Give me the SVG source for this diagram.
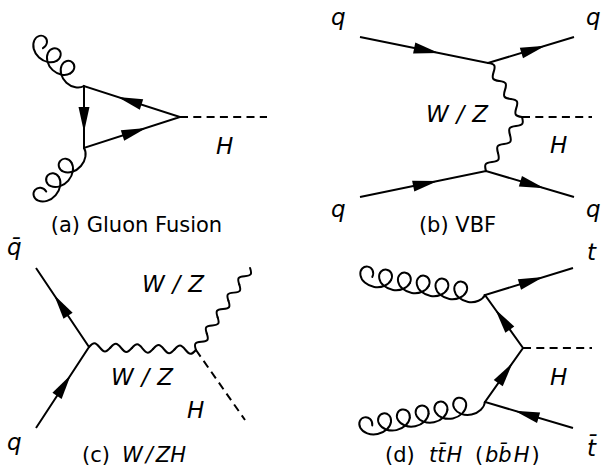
<svg xmlns="http://www.w3.org/2000/svg" xmlns:xlink="http://www.w3.org/1999/xlink" width="601" height="471" viewBox="0 0 601 471">
<style>
.ln{fill:none;stroke:#000;stroke-width:2;stroke-linejoin:miter}
.ds{fill:none;stroke:#000;stroke-width:2;stroke-dasharray:8 5.3}
.ar{fill:#000;stroke:none}
.bo{fill:none;stroke:#000;stroke-width:2;stroke-linecap:round;stroke-linejoin:round}
text{font-family:"DejaVu Sans","Liberation Sans",sans-serif;fill:#000}
.m{font-size:23px;font-style:italic}
.cap{font-size:21px}
.it{font-style:italic}
</style>
<defs>
<path id="coil" d="M0,0 C0.812,-2.487 0.438,-4.959 -0.787,-6.718 C-2.012,-8.477 -4.063,-9.5 -6.131,-9.5 C-8.199,-9.5 -10.249,-8.477 -11.474,-6.718 C-12.699,-4.959 -13.073,-2.487 -12.261,0 C-11.449,2.487 -9.452,4.959 -6.604,6.718 C-3.756,8.477 -0.083,9.5 3.608,9.5 C7.299,9.5 10.973,8.477 13.821,6.718 C16.669,4.959 18.666,2.487 19.478,0"/>
<path id="wave" d="M0,0 C1.667,-2.094 3.333,-4 5,-4 S8.333,-2.094 10,0 S13.333,4 15,4 S18.333,2.094 20,0"/>
<path id="arr" d="M15,0 L-10,-5.5 L-10,5.5 Z"/>
</defs>
<rect width="601" height="471" fill="#fff"/>

<g id="connectors">
  <!-- (a) gluon fusion -->
  <path class="ln" d="M84,86 L84,148 L180,117 Z"/>
  <line class="ds" x1="180" y1="117" x2="267" y2="117"/>
  <g class="bo" transform="translate(34,40) rotate(42.61) scale(0.955,1) translate(12.7,0)">
    <use href="#coil" xlink:href="#coil"/><use href="#coil" xlink:href="#coil" x="19.478"/><use href="#coil" xlink:href="#coil" x="38.956"/>
  </g>
  <g class="bo" transform="translate(38,201) rotate(-49.05) scale(0.987,1) translate(12.7,0)">
    <use href="#coil" xlink:href="#coil"/><use href="#coil" xlink:href="#coil" x="19.478"/><use href="#coil" xlink:href="#coil" x="38.956"/>
  </g>
  <use class="ar" href="#arr" xlink:href="#arr" transform="translate(84,117) rotate(90)"/>
  <use class="ar" href="#arr" xlink:href="#arr" transform="translate(132,101.5) rotate(-162.1)"/>
  <use class="ar" href="#arr" xlink:href="#arr" transform="translate(132,132.5) rotate(-17.9)"/>

  <!-- (b) VBF -->
  <path class="ln" d="M360,37 L488,63 L574,37"/>
  <path class="ln" d="M360,197 L486,171 L574,197"/>
  <g class="bo" transform="translate(488,63) rotate(57.8) scale(1.063,1)">
    <use href="#wave" xlink:href="#wave"/><use href="#wave" xlink:href="#wave" x="20"/><use href="#wave" xlink:href="#wave" x="40"/>
  </g>
  <g class="bo" transform="translate(522,117) rotate(123.7) scale(1.082,1)">
    <use href="#wave" xlink:href="#wave"/><use href="#wave" xlink:href="#wave" x="20"/><use href="#wave" xlink:href="#wave" x="40"/>
  </g>
  <line class="ds" x1="522" y1="117" x2="592" y2="117"/>
  <use class="ar" href="#arr" xlink:href="#arr" transform="translate(424,50) rotate(11.48)"/>
  <use class="ar" href="#arr" xlink:href="#arr" transform="translate(531,50) rotate(-16.82)"/>
  <use class="ar" href="#arr" xlink:href="#arr" transform="translate(423,184) rotate(-11.66)"/>
  <use class="ar" href="#arr" xlink:href="#arr" transform="translate(530,184) rotate(16.46)"/>

  <!-- (c) W/ZH -->
  <path class="ln" d="M36,268 L89,347 L36,428"/>
  <g class="bo" transform="translate(89,347) rotate(1.61) scale(1.070,1)">
    <use href="#wave" xlink:href="#wave"/><use href="#wave" xlink:href="#wave" x="20"/><use href="#wave" xlink:href="#wave" x="40"/><use href="#wave" xlink:href="#wave" x="60"/><use href="#wave" xlink:href="#wave" x="80"/>
  </g>
  <g class="bo" transform="translate(196,350) rotate(-56.6) scale(0.982,1)">
    <use href="#wave" xlink:href="#wave"/><use href="#wave" xlink:href="#wave" x="20"/><use href="#wave" xlink:href="#wave" x="40"/><use href="#wave" xlink:href="#wave" x="60"/><use href="#wave" xlink:href="#wave" x="80"/>
  </g>
  <line class="ds" x1="196" y1="350" x2="245" y2="420"/>
  <use class="ar" href="#arr" xlink:href="#arr" transform="translate(62.5,307.5) rotate(-123.9)"/>
  <use class="ar" href="#arr" xlink:href="#arr" transform="translate(62.5,387.5) rotate(-56.8)"/>

  <!-- (d) ttH -->
  <path class="ln" d="M573,268 L485,295 L523,348 L485,402 L573,428"/>
  <line class="ds" x1="523" y1="348" x2="592" y2="348"/>
  <g class="bo" transform="translate(360,275) rotate(9.09) scale(0.977,1) translate(12.7,0)">
    <use href="#coil" xlink:href="#coil"/><use href="#coil" xlink:href="#coil" x="19.478"/><use href="#coil" xlink:href="#coil" x="38.956"/><use href="#coil" xlink:href="#coil" x="58.434"/><use href="#coil" xlink:href="#coil" x="77.912"/><use href="#coil" xlink:href="#coil" x="97.39"/>
  </g>
  <g class="bo" transform="translate(360,428) rotate(-11.75) scale(0.985,1) translate(12.7,0)">
    <use href="#coil" xlink:href="#coil"/><use href="#coil" xlink:href="#coil" x="19.478"/><use href="#coil" xlink:href="#coil" x="38.956"/><use href="#coil" xlink:href="#coil" x="58.434"/><use href="#coil" xlink:href="#coil" x="77.912"/><use href="#coil" xlink:href="#coil" x="97.39"/>
  </g>
  <use class="ar" href="#arr" xlink:href="#arr" transform="translate(529,281.5) rotate(-17.06)"/>
  <use class="ar" href="#arr" xlink:href="#arr" transform="translate(529,415) rotate(-163.54)"/>
  <use class="ar" href="#arr" xlink:href="#arr" transform="translate(504,321.5) rotate(-125.64)"/>
  <use class="ar" href="#arr" xlink:href="#arr" transform="translate(504,375) rotate(-54.86)"/>
</g>

<!-- (a) labels -->
<g id="a-H"><text class="m" x="216" y="154">H</text></g>
<g id="a-caption"><text class="cap" x="136.5" y="232" text-anchor="middle">(a) Gluon Fusion</text></g>

<!-- (b) labels -->
<g id="b-q-in-top"><text class="m" x="331" y="25">q</text></g>
<g id="b-q-out-top"><text class="m" x="586" y="25">q</text></g>
<g id="b-WZ"><text class="m" x="426" y="122" textLength="62" lengthAdjust="spacing">W/Z</text></g>
<g id="b-H"><text class="m" x="550" y="153">H</text></g>
<g id="b-q-in-bot"><text class="m" x="331" y="217">q</text></g>
<g id="b-q-out-bot"><text class="m" x="586" y="217">q</text></g>
<g id="b-caption"><text class="cap" x="457.5" y="232" text-anchor="middle">(b) VBF</text></g>

<!-- (c) labels -->
<g id="c-qbar"><text class="m" x="7" y="255">q&#x304;</text></g>
<g id="c-WZ-out"><text class="m" x="142" y="292" textLength="62" lengthAdjust="spacing">W/Z</text></g>
<g id="c-WZ-prop"><text class="m" x="111" y="385" textLength="62" lengthAdjust="spacing">W/Z</text></g>
<g id="c-H"><text class="m" x="187" y="418">H</text></g>
<g id="c-q"><text class="m" x="7" y="450">q</text></g>
<g id="c-caption"><text class="cap" y="462"><tspan x="82">(c) </tspan><tspan x="122" class="it">W<tspan dx="3">/</tspan><tspan dx="3">ZH</tspan></tspan></text></g>

<!-- (d) labels -->
<g id="d-t"><text class="m" x="587" y="260">t</text></g>
<g id="d-H"><text class="m" x="550" y="385">H</text></g>
<g id="d-tbar"><text class="m" x="587" y="456">t&#x304;</text></g>
<g id="d-caption"><text class="cap" y="462"><tspan x="385">(d) </tspan><tspan x="429" class="it">tt&#x304;<tspan dx="1">H</tspan> </tspan><tspan x="475">(</tspan><tspan x="485" class="it">bb&#x304;<tspan dx="2">H</tspan></tspan><tspan dx="2">)</tspan></text></g>
</svg>
